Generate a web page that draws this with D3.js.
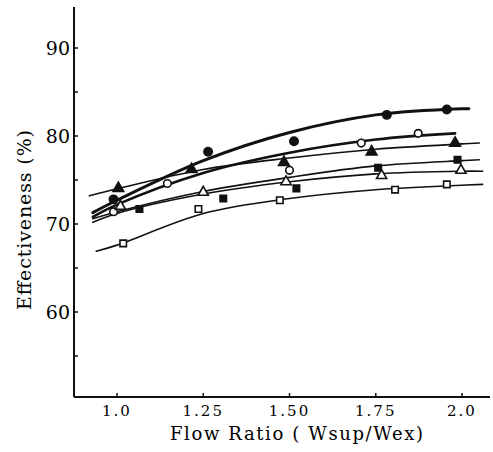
<!DOCTYPE html>
<html>
<head>
<meta charset="utf-8" />
<title>Effectiveness vs flow ratio</title>
<style>
body { margin: 0; background: #fff; }
</style>
</head>
<body>
<script src="https://cdn.jsdelivr.net/npm/d3@7/dist/d3.min.js"></script>
<script>
var width = 493,
    height = 452;

// tick labels
var xTicks = [1.0, 1.25, 1.5, 1.75, 2.0];
var xTickLabels = ["1.0", "1.25", "1.50", "1.75", "2.0"];
var yTicks = [60, 70, 80, 90];
var yMinor = [55, 65, 75, 85];

// measured points, one array per series  [flow ratio, effectiveness]
var filledCircle = [[0.99, 72.8], [1.264, 78.2], [1.513, 79.4], [1.782, 82.4], [1.956, 83.0]];
var openCircle   = [[0.99, 71.4], [1.146, 74.6], [1.50, 76.1], [1.708, 79.2], [1.873, 80.3]];
var filledTri    = [[1.004, 74.05], [1.216, 76.2], [1.484, 77.0], [1.738, 78.2], [1.98, 79.2]];
var filledSquare = [[1.065, 71.7], [1.308, 72.9], [1.52, 74.05], [1.757, 76.4], [1.987, 77.3]];
var openTri      = [[1.01, 72.0], [1.25, 73.6], [1.49, 74.8], [1.767, 75.5], [1.997, 76.1]];
var openSquare   = [[1.018, 67.8], [1.236, 71.7], [1.472, 72.7], [1.806, 73.9], [1.956, 74.5]];

// fitted curves
var fitFilledCircle = [[0.93, 71.3], [1.0, 72.7], [1.25, 77.2], [1.5, 80.4], [1.75, 82.4], [2.0, 83.1], [2.02, 83.1]];
var fitOpenCircle   = [[0.93, 70.8], [1.0, 72.2], [1.25, 75.8], [1.5, 78.1], [1.75, 79.6], [1.98, 80.3]];
var fitFilledTri    = [[0.92, 73.2], [1.0, 74.0], [1.25, 76.2], [1.5, 77.5], [1.75, 78.5], [2.0, 79.1], [2.05, 79.2]];
var fitFilledSquare = [[0.93, 70.6], [1.0, 71.4], [1.25, 73.7], [1.5, 75.3], [1.75, 76.6], [2.0, 77.2], [2.05, 77.3]];
var fitOpenTri      = [[0.93, 70.2], [1.0, 71.2], [1.25, 73.4], [1.5, 74.8], [1.75, 75.7], [2.0, 76.0], [2.06, 76.0]];
var fitOpenSquare   = [[0.94, 66.9], [1.0, 67.6], [1.25, 71.2], [1.5, 72.9], [1.75, 73.9], [2.0, 74.4], [2.06, 74.5]];

var series = [
  {pts: filledCircle, fit: fitFilledCircle, shape: d3.symbolCircle, size: 55, filled: true, lw: 3},
  {pts: openCircle, fit: fitOpenCircle, shape: d3.symbolCircle, size: 45, filled: false, lw: 2.6},
  {pts: filledTri, fit: fitFilledTri, shape: d3.symbolTriangle, size: 50, filled: true, lw: 1.6},
  {pts: filledSquare, fit: fitFilledSquare, shape: d3.symbolSquare, size: 42, filled: true, lw: 1.6},
  {pts: openTri, fit: fitOpenTri, shape: d3.symbolTriangle, size: 45, filled: false, lw: 1.6},
  {pts: openSquare, fit: fitOpenSquare, shape: d3.symbolSquare, size: 42, filled: false, lw: 1.6}
];

var serif = "'DejaVu Serif', 'Liberation Serif', 'Times New Roman', serif";

var x = d3.scaleLinear().domain([1, 2]).range([117, 462]);
var y = d3.scaleLinear().domain([60, 90]).range([312, 48]);

var x0 = 74, x1 = 490, yTop = 7, yBot = 397;

var svg = d3.select("body").append("svg")
    .attr("width", width)
    .attr("height", height)
    .attr("font-family", serif);

// curves
var line = d3.line()
    .x(function(d){ return x(d[0]); })
    .y(function(d){ return y(d[1]); })
    .curve(d3.curveCatmullRom);

svg.selectAll(".fit")
  .data(series)
  .enter().append("path")
    .attr("class", "fit")
    .attr("d", function(d){ return line(d.fit); })
    .style("fill", "none")
    .style("stroke", "#111")
    .style("stroke-width", function(d){ return d.lw; })
    .style("stroke-linecap", "round");

// markers
series.forEach(function(s){
  svg.selectAll(null)
    .data(s.pts)
    .enter().append("path")
      .attr("transform", function(d){ return "translate(" + x(d[0]) + "," + y(d[1]) + ")"; })
      .attr("d", d3.symbol().type(s.shape).size(s.size))
      .style("fill", s.filled ? "#111" : "#fff")
      .style("stroke", "#111")
      .style("stroke-width", 1.6);
});

// axes
var ax = svg.append("g").style("stroke", "#111").style("stroke-width", 2);
ax.append("line").attr("x1", x0).attr("x2", x0).attr("y1", yTop).attr("y2", yBot);
ax.append("line").attr("x1", x0).attr("x2", x1).attr("y1", yBot).attr("y2", yBot);

ax.selectAll(".ytick")
  .data(yTicks.concat(yMinor))
  .enter().append("line")
    .attr("x1", x0).attr("x2", x0 + 4)
    .attr("y1", function(d){ return y(d); })
    .attr("y2", function(d){ return y(d); })
    .style("stroke-width", 1.5);

ax.selectAll(".xtick")
  .data(xTicks)
  .enter().append("line")
    .attr("x1", function(d){ return x(d); })
    .attr("x2", function(d){ return x(d); })
    .attr("y1", yBot).attr("y2", yBot - 4)
    .style("stroke-width", 1.5);

svg.selectAll(".ylab")
  .data(yTicks)
  .enter().append("text")
    .attr("x", 70)
    .attr("y", function(d){ return y(d) + 7; })
    .attr("text-anchor", "end")
    .style("font-size", "19px")
    .text(function(d){ return d; });

svg.selectAll(".xlab")
  .data(xTicks)
  .enter().append("text")
    .attr("x", function(d){ return x(d); })
    .attr("y", 416)
    .attr("text-anchor", "middle")
    .style("font-size", "15px")
    .style("letter-spacing", "2px")
    .text(function(d, i){ return xTickLabels[i]; });

svg.append("text")
    .attr("x", 170)
    .attr("y", 440)
    .attr("textLength", 253)
    .attr("lengthAdjust", "spacing")
    .style("font-size", "18px")
    .text("Flow Ratio ( Wsup/Wex)");

svg.append("text")
    .attr("transform", "translate(31,310) rotate(-90)")
    .attr("textLength", 180)
    .attr("lengthAdjust", "spacing")
    .style("font-size", "19px")
    .text("Effectiveness (%)");
</script>
</body>
</html>
